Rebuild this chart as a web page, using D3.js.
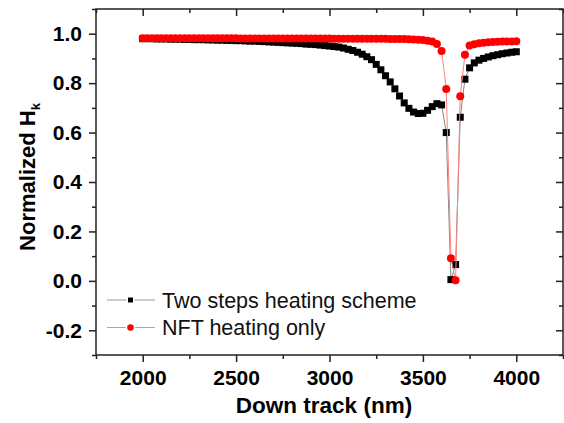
<!DOCTYPE html>
<html>
<head>
<meta charset="utf-8">
<script src="https://cdn.jsdelivr.net/npm/d3@7"></script>
<style>
  body { margin: 0; background: #fff; }
  svg { display: block; font-family: Arial, "Liberation Sans", sans-serif; }
</style>
</head>
<body>
<div id="chart"></div>
<script>

// down track positions (nm)
var downTrack = [
    2000, 2025, 2050, 2075, 2100, 2125, 2150, 2175, 2200, 2225,
    2250, 2275, 2300, 2325, 2350, 2375, 2400, 2425, 2450, 2475,
    2500, 2525, 2550, 2575, 2600, 2625, 2650, 2675, 2700, 2725,
    2750, 2775, 2800, 2825, 2850, 2875, 2900, 2925, 2950, 2975,
    3000, 3025, 3050, 3075, 3100, 3125, 3150, 3175, 3200, 3225,
    3250, 3275, 3300, 3325, 3350, 3375, 3400, 3425, 3450, 3475,
    3500, 3525, 3550, 3575, 3600, 3625, 3650, 3675, 3700, 3725,
    3750, 3775, 3800, 3825, 3850, 3875, 3900, 3925, 3950, 3975,
    4000
];

// Two steps heating scheme
var twoSteps = [
    0.980, 0.980, 0.980, 0.979, 0.979, 0.979, 0.978, 0.978, 0.978, 0.977,
    0.977, 0.976, 0.976, 0.976, 0.975, 0.975, 0.974, 0.974, 0.973, 0.973,
    0.972, 0.972, 0.971, 0.970, 0.970, 0.969, 0.968, 0.967, 0.966, 0.965,
    0.964, 0.963, 0.962, 0.961, 0.960, 0.958, 0.957, 0.956, 0.954, 0.952,
    0.950, 0.948, 0.946, 0.942, 0.937, 0.932, 0.925, 0.917, 0.907, 0.895,
    0.876, 0.854, 0.830, 0.805, 0.777, 0.748, 0.720, 0.698, 0.683, 0.677,
    0.678, 0.690, 0.705, 0.717, 0.712, 0.600, 0.005, 0.066, 0.662, 0.816,
    0.862, 0.882, 0.893, 0.900, 0.906, 0.911, 0.915, 0.919, 0.922, 0.925,
    0.927
];

// NFT heating only
var nftOnly = [
    0.982, 0.982, 0.982, 0.982, 0.982, 0.982, 0.982, 0.982, 0.982, 0.982,
    0.982, 0.982, 0.982, 0.982, 0.982, 0.982, 0.982, 0.982, 0.982, 0.982,
    0.982, 0.981, 0.981, 0.981, 0.981, 0.981, 0.981, 0.981, 0.981, 0.981,
    0.981, 0.981, 0.981, 0.981, 0.981, 0.981, 0.981, 0.981, 0.981, 0.981,
    0.981, 0.980, 0.980, 0.980, 0.980, 0.980, 0.980, 0.980, 0.980, 0.980,
    0.980, 0.980, 0.980, 0.979, 0.979, 0.979, 0.979, 0.978, 0.977, 0.976,
    0.975, 0.972, 0.968, 0.958, 0.930, 0.776, 0.091, 0.002, 0.747, 0.915,
    0.952, 0.957, 0.961, 0.963, 0.965, 0.966, 0.967, 0.968, 0.969, 0.969,
    0.970
];

var xTicks = [2000, 2500, 3000, 3500, 4000];
var xMinor = [1750, 2250, 2750, 3250, 3750, 4250];
var yTicks = [-0.2, 0.0, 0.2, 0.4, 0.6, 0.8, 1.0];
var yMinor = [-0.3, -0.1, 0.1, 0.3, 0.5, 0.7, 0.9, 1.1];

var W = 564, H = 423;
var pLeft = 96, pRight = 563, pTop = 9, pBottom = 355;

var svg = d3.select('#chart').append('svg').attr('width', W).attr('height', H);

var x = d3.scaleLinear().domain([1750, 4250]).range([pLeft, pRight]);
var y = d3.scaleLinear().domain([-0.3, 1.1]).range([pBottom, pTop]);

function styleAxis(g) {
    g.select('.domain').remove();
    g.selectAll('line').attr('stroke', '#222').attr('stroke-width', 1.5);
}

// plain hyphen for negatives, like the original
function yFmt(d) { return d.toFixed(1).replace('−', '-'); }

// bottom axis (outward ticks)
svg.append('g').attr('transform', 'translate(0,' + pBottom + ')')
    .call(d3.axisBottom(x).tickValues(xTicks).tickSize(7).tickPadding(8).tickFormat(d3.format('d')))
    .call(styleAxis)
    .selectAll('text').attr('font-size', '21px').attr('font-weight', 'bold').attr('fill', '#000');
svg.append('g').attr('transform', 'translate(0,' + pBottom + ')')
    .call(d3.axisBottom(x).tickValues(xMinor).tickSize(4).tickFormat(''))
    .call(styleAxis);

// top axis (inward ticks)
svg.append('g').attr('transform', 'translate(0,' + pTop + ')')
    .call(d3.axisBottom(x).tickValues(xTicks).tickSize(7).tickFormat(''))
    .call(styleAxis);
svg.append('g').attr('transform', 'translate(0,' + pTop + ')')
    .call(d3.axisBottom(x).tickValues(xMinor).tickSize(4).tickFormat(''))
    .call(styleAxis);

// left axis (outward ticks)
svg.append('g').attr('transform', 'translate(' + pLeft + ',0)')
    .call(d3.axisLeft(y).tickValues(yTicks).tickSize(7).tickPadding(7).tickFormat(yFmt))
    .call(styleAxis)
    .selectAll('text').attr('font-size', '21px').attr('font-weight', 'bold').attr('fill', '#000');
svg.append('g').attr('transform', 'translate(' + pLeft + ',0)')
    .call(d3.axisLeft(y).tickValues(yMinor).tickSize(4).tickFormat(''))
    .call(styleAxis);

// right axis (inward ticks)
svg.append('g').attr('transform', 'translate(' + pRight + ',0)')
    .call(d3.axisLeft(y).tickValues(yTicks).tickSize(7).tickFormat(''))
    .call(styleAxis);
svg.append('g').attr('transform', 'translate(' + pRight + ',0)')
    .call(d3.axisLeft(y).tickValues(yMinor).tickSize(4).tickFormat(''))
    .call(styleAxis);

// frame
svg.append('rect')
    .attr('x', pLeft).attr('y', pTop)
    .attr('width', pRight - pLeft).attr('height', pBottom - pTop)
    .attr('fill', 'none').attr('stroke', '#222').attr('stroke-width', 1.5);

var line = d3.line()
    .x(function(d) { return x(d[0]); })
    .y(function(d) { return y(d[1]); });

var blackPts = downTrack.map(function(d, i) { return [d, twoSteps[i]]; });
var redPts = downTrack.map(function(d, i) { return [d, nftOnly[i]]; });

svg.append('path').attr('d', line(blackPts))
    .attr('fill', 'none').attr('stroke', '#888').attr('stroke-width', 1);
svg.selectAll('rect.sq').data(blackPts).enter().append('rect')
    .attr('class', 'sq')
    .attr('x', function(d) { return x(d[0]) - 3.5; })
    .attr('y', function(d) { return y(d[1]) - 3.5; })
    .attr('width', 7).attr('height', 7)
    .attr('fill', '#000');

svg.append('path').attr('d', line(redPts))
    .attr('fill', 'none').attr('stroke', '#ff8080').attr('stroke-width', 1);
svg.selectAll('circle.dot').data(redPts).enter().append('circle')
    .attr('class', 'dot')
    .attr('cx', function(d) { return x(d[0]); })
    .attr('cy', function(d) { return y(d[1]); })
    .attr('r', 4)
    .attr('fill', '#ff0000');

// legend
var leg = svg.append('g');
leg.append('line').attr('x1', 107).attr('x2', 155).attr('y1', 300).attr('y2', 300)
    .attr('stroke', '#999').attr('stroke-width', 1);
leg.append('rect').attr('x', 128).attr('y', 297.5).attr('width', 5).attr('height', 5)
    .attr('fill', '#000').attr('stroke', '#fff').attr('stroke-width', 3).attr('paint-order', 'stroke');
leg.append('text').attr('x', 162).attr('y', 307.5).attr('font-size', '21.5px').attr('fill', '#111')
    .text('Two steps heating scheme');
leg.append('line').attr('x1', 107).attr('x2', 155).attr('y1', 327.5).attr('y2', 327.5)
    .attr('stroke', '#ff8080').attr('stroke-width', 1);
leg.append('circle').attr('cx', 130.5).attr('cy', 327.5).attr('r', 3.3)
    .attr('fill', '#ff0000').attr('stroke', '#fff').attr('stroke-width', 3).attr('paint-order', 'stroke');
leg.append('text').attr('x', 162).attr('y', 335).attr('font-size', '21.5px').attr('fill', '#111')
    .text('NFT heating only');

// axis titles
svg.append('text')
    .attr('x', 324).attr('y', 413)
    .attr('text-anchor', 'middle')
    .attr('font-size', '22.5px').attr('font-weight', 'bold')
    .text('Down track (nm)');

var yt = svg.append('text')
    .attr('transform', 'translate(35,177) rotate(-90)')
    .attr('text-anchor', 'middle')
    .attr('font-size', '22px').attr('font-weight', 'bold');
yt.append('tspan').text('Normalized H');
yt.append('tspan').attr('font-size', '13px').attr('dy', 5).text('k');

</script>
</body>
</html>
